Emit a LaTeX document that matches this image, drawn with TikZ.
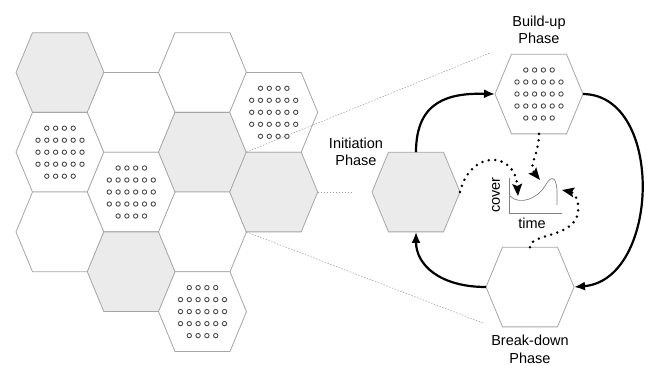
\documentclass[tikz,border=0pt]{standalone}
\usepackage{fontspec}
\setmainfont{Liberation Sans}
\usetikzlibrary{calc, positioning, arrows.meta}

% outline of a (flat topped) cell drawn round a hexcell node
\newcommand{\hexoutline}[2]{%
  \path[#2] (#1.west) -- ([xshift=16.5pt]#1.north west) -- ([xshift=-16.5pt]#1.north east)
    -- (#1.east) -- ([xshift=-16.5pt]#1.south east) -- ([xshift=16.5pt]#1.south west) -- cycle;}
% 4-6-6-6-4 rings inside a cell
\newcommand{\cellgrid}[1]{%
  \foreach \rowy/\rowk in {-24/4,-12/6,0/6,12/6,24/4} {
    \foreach \ringi in {1,...,\rowk} {
      \pgfmathsetmacro{\ringx}{(\ringi-(\rowk+1)/2)*8.8}
      \draw[griddot] ($(#1.center)+(\ringx,\rowy)$) circle (2.2pt);
    }
  }}

\begin{document}
\begin{tikzpicture}[
    x=1pt, y=-1pt,
    hexcell/.style={rectangle, minimum width=88pt, minimum height=79.7pt, inner sep=0pt, outer sep=0pt},
    hexline/.style={draw=black!35, line width=0.8pt},
    hexplain/.style={hexline, fill=white},
    hexgray/.style={hexline, fill=black!8},
    griddot/.style={draw=black!70, line width=0.9pt},
    phaselabel/.style={font=\fontsize{14.5}{17.5}\selectfont, align=center, inner sep=0pt},
    cyclearrow/.style={-{Latex[length=11pt,width=9pt]}, line width=2.2pt},
    dotarrow/.style={-{Stealth[length=12pt,width=9.5pt,inset=2pt]}, line width=2.8pt, line cap=round, dash pattern=on 0pt off 6.5pt},
    zoomline/.style={draw=black!40, line width=0.5pt, dash pattern=on 1.5pt off 1.5pt},
    axisline/.style={draw=black!50, line width=0.8pt}
]
\useasboundingbox (0,0) rectangle (646,365);

% landscape of cells
\foreach \hname/\hx/\hy/\hkind in {
    c1r1/60/72.5/hexgray, c1r2/60/152.2/hexplain, c1r3/60/231.9/hexplain,
    c2r1/131.3/112.3/hexplain, c2r2/131.3/192/hexplain, c2r3/131.3/271.7/hexgray,
    c3r1/202.5/72.5/hexplain, c3r2/202.5/152.2/hexgray, c3r3/202.5/231.9/hexplain, c3r4/202.5/311.6/hexplain,
    c4r1/273.7/112.3/hexplain, c4r2/273.7/192/hexgray} {
  \node[hexcell] (\hname) at (\hx,\hy) {};
  \hexoutline{\hname}{\hkind}
}

% phases of one cell
\node[hexcell] (ini) at (416,192) {};
\node[hexcell] (bu) at (539,94) {};
\node[hexcell] (bd) at (530,287) {};
\hexoutline{ini}{hexgray}
\hexoutline{bu}{hexplain}
\hexoutline{bd}{hexplain}

\foreach \hname in {c1r2, c2r2, c3r4, c4r1, bu} {
  \cellgrid{\hname}
}

\node[phaselabel, above=10pt of bu] (bulabel) {Build-up\\Phase};
\node[phaselabel] (inilabel) at (356,152) {Initiation\\Phase};
\node[phaselabel, below=8pt of bd] (bdlabel) {Break-down\\Phase};

% zoom lines
\coordinate (zA) at (490,53);
\coordinate (zB) at (352,192);
\coordinate (zC) at (483,323);
\draw[zoomline] ([xshift=16.5pt]c4r2.north west) -- (zA);
\draw[zoomline] (c4r2.east) -- (zB);
\draw[zoomline] ([xshift=16.5pt]c4r2.south west) -- (zC);

% cover over time
\draw[axisline] (509,178) |- (562,213);
\draw[axisline, line width=0.7pt] (510,196) .. controls (520,206) and (538,198) .. (545,186)
  .. controls (551,175) and (556,176) .. (557,190) -- (557,205);
\node[phaselabel, rotate=90] (coverlabel) at (496,195) {cover};
\node[phaselabel] (timelabel) at (532,223) {time};

% cycle
\draw[cyclearrow] (ini.north) .. controls (416,100) and (450,93) .. (bu.west);
\draw[cyclearrow] (bu.east) .. controls (665,95) and (660,280) .. (bd.east);
\draw[cyclearrow] (bd.west) .. controls (440,287) and (416,265) .. (ini.south);

\coordinate (tipA) at (540,180);
\coordinate (tipB) at (518,196);
\coordinate (tipC) at (562,190);
\draw[dotarrow] (bu.south) .. controls (539,155) and (528,165) .. (tipA);
\draw[dotarrow] (ini.east) .. controls (470,150) and (515,150) .. (tipB);
\draw[dotarrow] (bd.north) .. controls (530,233) and (575,238) .. (578,212)
  .. controls (580,198) and (572,192) .. (tipC);

\end{tikzpicture}
\end{document}
